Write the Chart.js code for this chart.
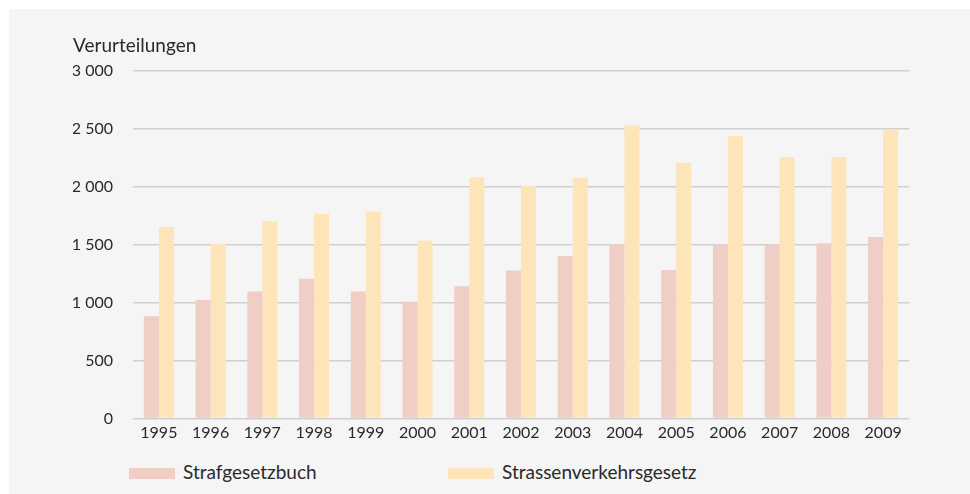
<!DOCTYPE html>
<html>
<head>
<meta charset="utf-8">
<script src="https://cdn.jsdelivr.net/npm/chart.js@4/dist/chart.umd.min.js"></script>
<style>
  body { margin: 0; background: #fff; font-family: Lato, sans-serif; }
  #panel { position: absolute; left: 9px; top: 9px; width: 961px; height: 485px; background: #f4f5f4; }
  #chart { position: absolute; left: 73px; top: 30px; }
  .key { position: absolute; top: 468px; width: 46px; height: 11px; }
  .keytext { position: absolute; top: 460px; font-size: 19px; color: #2a2a2a; line-height: 24px; }
</style>
</head>
<body>
<div id="panel"></div>
<canvas id="chart" width="836" height="418"></canvas>
<div id="legend"></div>
<script>
const years = ['1995', '1996', '1997', '1998', '1999', '2000', '2001', '2002', '2003', '2004', '2005', '2006', '2007', '2008', '2009'];
const strafgesetzbuch = [880, 1020, 1095, 1205, 1095, 1005, 1140, 1275, 1400, 1500, 1280, 1500, 1500, 1510, 1565];
const strassenverkehr = [1650, 1505, 1700, 1765, 1785, 1535, 2080, 2005, 2075, 2525, 2205, 2435, 2255, 2255, 2490];
const seriesNames = ['Strafgesetzbuch', 'Strassenverkehrsgesetz'];
const colors = ['#f0cdc5', '#fee5b9'];
const yTicks = [0, 500, 1000, 1500, 2000, 2500, 3000];

const textColor = '#2a2a2a';

function formatNumber(v) {
  return String(v).replace(/\B(?=(\d{3})+(?!\d))/g, ' ');
}

// legend drawn as html, the chart.js one can't space items like this
const legendPos = [[129, 183], [448, 502]];
const legend = document.getElementById('legend');
seriesNames.forEach((name, i) => {
  const box = document.createElement('div');
  box.className = 'key';
  box.style.left = legendPos[i][0] + 'px';
  box.style.background = colors[i];
  const txt = document.createElement('div');
  txt.className = 'keytext';
  txt.style.left = legendPos[i][1] + 'px';
  txt.textContent = name;
  legend.appendChild(box);
  legend.appendChild(txt);
});

new Chart(document.getElementById('chart'), {
  type: 'bar',
  data: {
    labels: years,
    datasets: [
      { label: seriesNames[0], data: strafgesetzbuch, backgroundColor: colors[0] },
      { label: seriesNames[1], data: strassenverkehr, backgroundColor: colors[1] },
    ],
  },
  options: {
    responsive: false,
    animation: false,
    categoryPercentage: 0.58,
    barPercentage: 1.0,
    layout: { padding: 0 },
    plugins: {
      legend: { display: false },
      tooltip: { enabled: false },
      title: {
        display: true,
        text: 'Verurteilungen',
        align: 'start',
        color: textColor,
        font: { family: 'Lato', size: 19, weight: 'normal' },
        padding: { top: 4, bottom: 13.7 },
      },
    },
    scales: {
      x: {
        grid: { display: false, drawTicks: false },
        border: { display: false },
        ticks: {
          color: textColor,
          padding: 5,
          font: { family: 'Lato', size: 16 },
          maxRotation: 0,
        },
      },
      y: {
        min: 0,
        max: 3000,
        afterFit: (axis) => { axis.width = 60; },
        afterBuildTicks: (axis) => { axis.ticks = yTicks.map((v) => ({ value: v })); },
        grid: { color: '#d0d0d0', lineWidth: 1.5, drawTicks: false },
        border: { display: false },
        ticks: {
          color: textColor,
          padding: 20,
          font: { family: 'Lato', size: 16 },
          callback: (v) => formatNumber(v),
        },
      },
    },
  },
});
</script>
</body>
</html>
